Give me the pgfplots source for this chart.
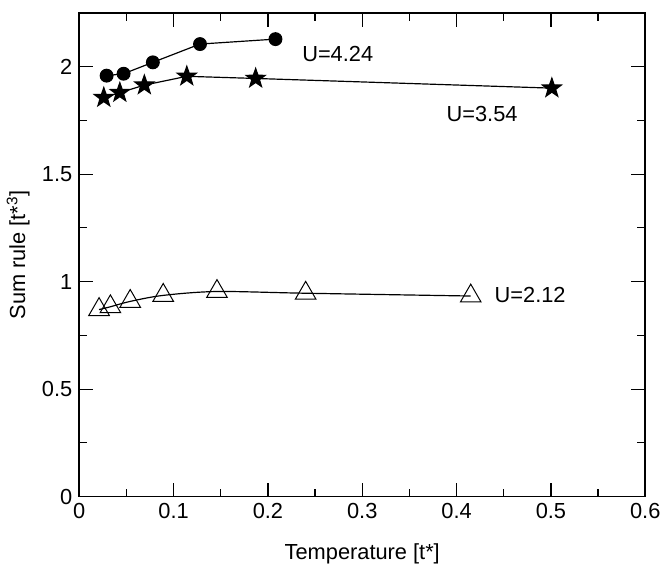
\documentclass[border=0pt]{standalone}
\usepackage{pgfplots}
\pgfplotsset{compat=1.18}
\usepackage{fontspec}
\setmainfont{Liberation Sans}

% filled five-pointed star
\pgfdeclareplotmark{fstar}{%
  \pgfpathmoveto{\pgfpointpolar{90}{\pgfplotmarksize}}%
  \pgfpathlineto{\pgfpointpolar{126}{0.4\pgfplotmarksize}}%
  \pgfpathlineto{\pgfpointpolar{162}{\pgfplotmarksize}}%
  \pgfpathlineto{\pgfpointpolar{198}{0.4\pgfplotmarksize}}%
  \pgfpathlineto{\pgfpointpolar{234}{\pgfplotmarksize}}%
  \pgfpathlineto{\pgfpointpolar{270}{0.4\pgfplotmarksize}}%
  \pgfpathlineto{\pgfpointpolar{306}{\pgfplotmarksize}}%
  \pgfpathlineto{\pgfpointpolar{342}{0.4\pgfplotmarksize}}%
  \pgfpathlineto{\pgfpointpolar{18}{\pgfplotmarksize}}%
  \pgfpathlineto{\pgfpointpolar{54}{0.4\pgfplotmarksize}}%
  \pgfpathclose
  \pgfusepathqfillstroke}

\begin{document}
\begin{tikzpicture}[font=\fontsize{11}{13}\selectfont]
\begin{axis}[
  scale only axis, width=285.5pt, height=244pt,
  xmin=0, xmax=0.6, ymin=0, ymax=2.25,
  xtick={0,0.1,0.2,0.3,0.4,0.5,0.6},
  ytick={0,0.5,1,1.5,2},
  minor x tick num=1, minor y tick num=1,
  tick align=inside, tick pos=both,
  major tick length=7pt, minor tick length=4pt,
  axis line style={line width=0.8pt},
  every tick/.style={black, line width=0.6pt},
  /pgf/number format/assume math mode=true,
  xlabel={Temperature [t*]},
  ylabel={Sum rule [t*\textsuperscript{3}]},
  xlabel style={at={(axis description cs:0.5,-0.118)}, anchor=center},
  ylabel style={at={(axis description cs:-0.108,0.5)}, anchor=center},
]
\addplot[black, line width=0.6pt, mark=*, mark size=3.2pt] coordinates {
  (0.029,1.958) (0.047,1.967) (0.078,2.020) (0.128,2.105) (0.208,2.128)};
\addplot[black, line width=0.6pt, mark=fstar, mark size=5pt] coordinates {
  (0.026,1.856) (0.043,1.879) (0.069,1.914) (0.114,1.955) (0.187,1.945) (0.501,1.900)};
\addplot[black, line width=0.6pt, smooth, mark=triangle, mark size=6pt,
  mark options={line width=0.5pt}] coordinates {
  (0.021,0.870) (0.033,0.883) (0.054,0.908) (0.089,0.936) (0.146,0.954) (0.240,0.946) (0.415,0.933)};
\node at (axis cs:0.274,2.061) {U=4.24};
\node at (axis cs:0.427,1.779) {U=3.54};
\node at (axis cs:0.478,0.938) {U=2.12};
\end{axis}
\path ([yshift=6.5pt]current axis.north);
\end{tikzpicture}
\end{document}
